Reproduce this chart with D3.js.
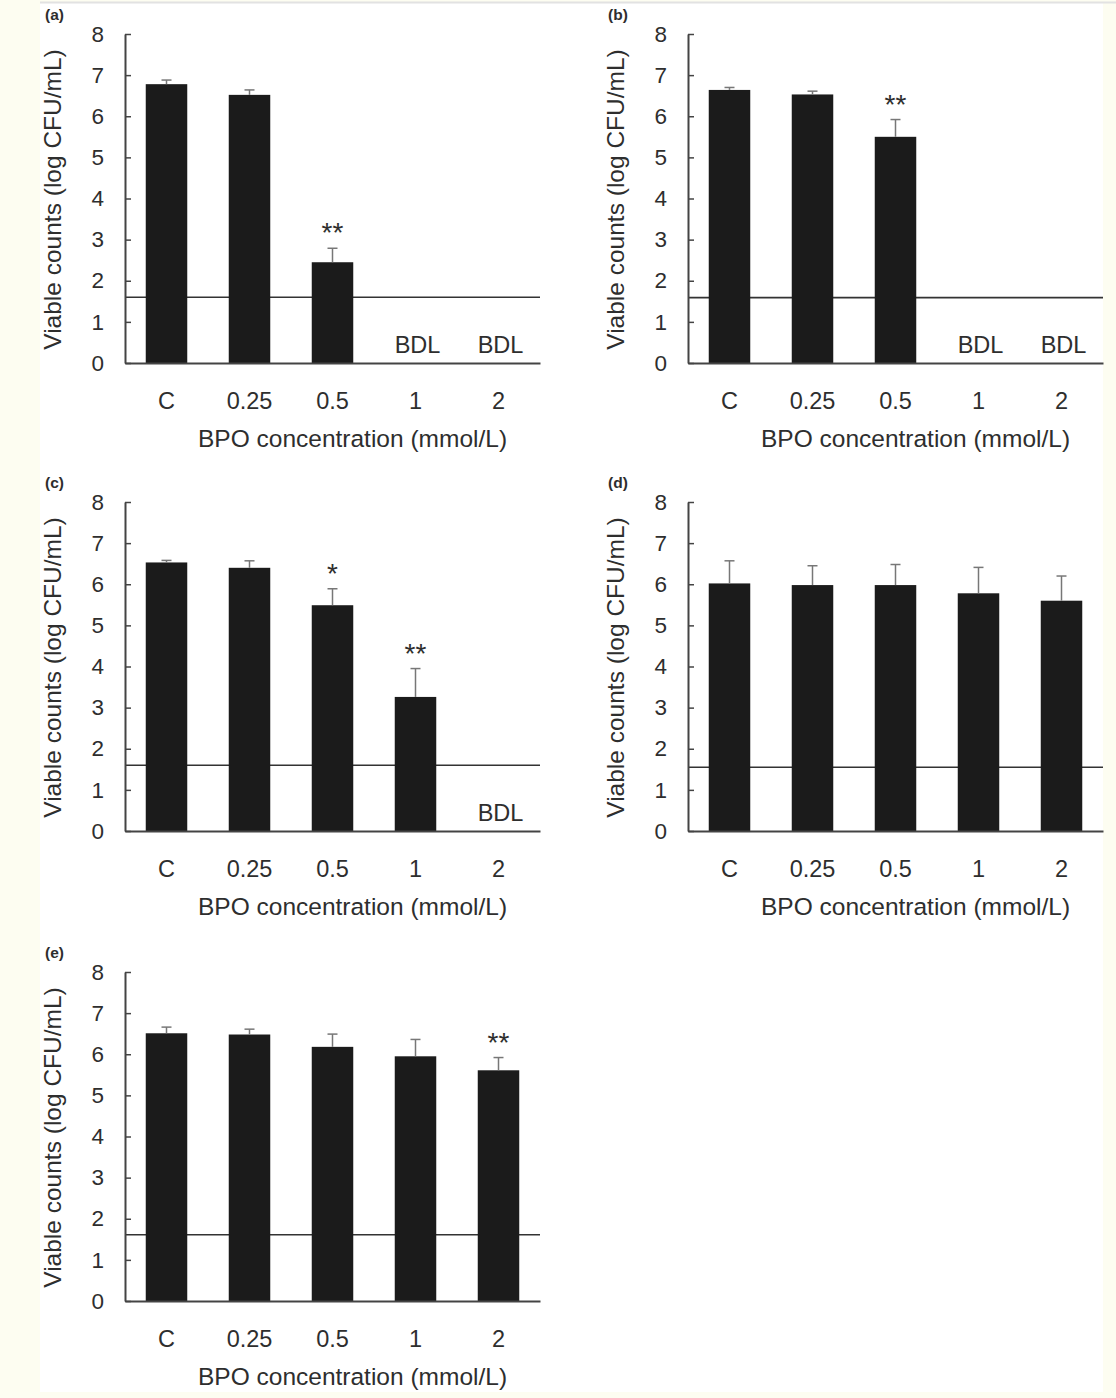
<!DOCTYPE html>
<html>
<head>
<meta charset="utf-8">
<script src="https://cdn.jsdelivr.net/npm/d3@7"></script>
<style>
  html, body { margin: 0; padding: 0; background: #fdfdf1; }
  svg { display: block; }
  text { font-family: "Liberation Sans", Arial, sans-serif; fill: #2e2e2e; }
</style>
</head>
<body>
<div id="viz"></div>
<script>
const categories = ['C', '0.25', '0.5', '1', '2'];
const panelLabels = ['(a)', '(b)', '(c)', '(d)', '(e)'];
const yTicks = [0, 1, 2, 3, 4, 5, 6, 7, 8];

// mean viable counts (log CFU/mL); null = below detection limit (BDL)
const meansA = [6.78, 6.52, 2.45, null, null];
const meansB = [6.64, 6.53, 5.50, null, null];
const meansC = [6.53, 6.40, 5.49, 3.26, null];
const meansD = [6.02, 5.98, 5.98, 5.78, 5.60];
const meansE = [6.51, 6.48, 6.18, 5.95, 5.61];

// upper error bar length
const errA = [0.10, 0.12, 0.34, null, null];
const errB = [0.06, 0.08, 0.42, null, null];
const errC = [0.05, 0.17, 0.40, 0.69, null];
const errD = [0.55, 0.47, 0.50, 0.63, 0.60];
const errE = [0.15, 0.13, 0.31, 0.41, 0.31];

// significance marks
const starsA = ['', '', '**', '', ''];
const starsB = ['', '', '**', '', ''];
const starsC = ['', '', '*', '**', ''];
const starsD = ['', '', '', '', ''];
const starsE = ['', '', '', '', '**'];

// detection limit line
const detectionLimits = [1.6, 1.59, 1.6, 1.55, 1.61];

const panels = [
  { label: panelLabels[0], means: meansA, errs: errA, stars: starsA, limit: detectionLimits[0] },
  { label: panelLabels[1], means: meansB, errs: errB, stars: starsB, limit: detectionLimits[1] },
  { label: panelLabels[2], means: meansC, errs: errC, stars: starsC, limit: detectionLimits[2] },
  { label: panelLabels[3], means: meansD, errs: errD, stars: starsD, limit: detectionLimits[3] },
  { label: panelLabels[4], means: meansE, errs: errE, stars: starsE, limit: detectionLimits[4] }
];

const width = 1116, height = 1398;
const plotW = 415, plotH = 329;
const origins = [[125, 34], [688, 34], [125, 502], [688, 502], [125, 972]];

const svg = d3.select('#viz').append('svg')
  .attr('width', width)
  .attr('height', height);

// white page area with thin top rule
svg.append('rect')
  .attr('x', 40).attr('y', 3)
  .attr('width', 1063).attr('height', 1389)
  .attr('fill', '#ffffff');
svg.append('line')
  .attr('x1', 40).attr('x2', 1116)
  .attr('y1', 2.5).attr('y2', 2.5)
  .attr('stroke', '#e2e2e2').attr('stroke-width', 2);

const xScale = d3.scaleBand()
  .domain(categories)
  .range([0, plotW])
  .paddingInner(0.5)
  .paddingOuter(0.25);

const yScale = d3.scaleLinear()
  .domain([0, 8])
  .range([plotH, 0]);

panels.forEach((p, idx) => {
  const [ox, oy] = origins[idx];
  const g = svg.append('g').attr('transform', `translate(${ox}, ${oy})`);
  const rows = categories.map((c, i) => ({ cat: c, mean: p.means[i], err: p.errs[i], star: p.stars[i] }));

  // panel letter
  g.append('text')
    .attr('x', 45 - 125)
    .attr('y', 20 - 34)
    .style('font-size', '15.5px')
    .style('font-weight', 'bold')
    .text(p.label);

  // detection limit line
  g.append('line')
    .attr('x1', 0).attr('x2', plotW)
    .attr('y1', yScale(p.limit)).attr('y2', yScale(p.limit))
    .attr('stroke', '#333').attr('stroke-width', 1.6);

  const shown = rows.filter(d => d.mean !== null);

  // bars
  g.selectAll('.bar')
    .data(shown)
    .enter().append('rect')
    .attr('class', 'bar')
    .attr('x', d => xScale(d.cat))
    .attr('y', d => yScale(d.mean))
    .attr('width', xScale.bandwidth())
    .attr('height', d => plotH - yScale(d.mean))
    .attr('fill', '#1b1b1b');

  // error bars (upper whisker only)
  const eb = g.selectAll('.err')
    .data(shown)
    .enter().append('g')
    .attr('class', 'err')
    .attr('transform', d => `translate(${xScale(d.cat) + xScale.bandwidth() / 2}, 0)`);
  eb.append('line')
    .attr('x1', 0).attr('x2', 0)
    .attr('y1', d => yScale(d.mean))
    .attr('y2', d => yScale(d.mean + d.err))
    .attr('stroke', '#777').attr('stroke-width', 1.5);
  eb.append('line')
    .attr('x1', -5).attr('x2', 5)
    .attr('y1', d => yScale(d.mean + d.err))
    .attr('y2', d => yScale(d.mean + d.err))
    .attr('stroke', '#777').attr('stroke-width', 1.5);

  // significance stars
  g.selectAll('.star')
    .data(shown.filter(d => d.star))
    .enter().append('text')
    .attr('class', 'star')
    .attr('x', d => xScale(d.cat) + xScale.bandwidth() / 2)
    .attr('y', d => yScale(d.mean + d.err) - 6)
    .attr('text-anchor', 'middle')
    .style('font-size', '28px')
    .text(d => d.star);

  // BDL labels
  g.selectAll('.bdl')
    .data(rows.filter(d => d.mean === null))
    .enter().append('text')
    .attr('class', 'bdl')
    .attr('x', d => xScale(d.cat) + xScale.bandwidth() / 2 + 2)
    .attr('y', plotH - 10)
    .attr('text-anchor', 'middle')
    .style('font-size', '23.5px')
    .text('BDL');

  // axes
  const yAxis = g.append('g')
    .call(d3.axisLeft(yScale).tickValues(yTicks).tickSize(-6).tickSizeOuter(0).tickPadding(21));
  yAxis.selectAll('text').style('font-size', '22.5px').attr('fill', '#2e2e2e');
  yAxis.selectAll('line').attr('stroke', '#444').attr('stroke-width', 1.5);
  yAxis.select('.domain').attr('stroke', '#444').attr('stroke-width', 2);

  const xAxis = g.append('g')
    .attr('transform', `translate(0, ${plotH})`)
    .call(d3.axisBottom(xScale).tickSize(0).tickPadding(29));
  xAxis.selectAll('text').style('font-size', '23.5px').attr('fill', '#2e2e2e');
  xAxis.select('.domain').attr('stroke', '#444').attr('stroke-width', 2);

  // axis titles
  g.append('text')
    .attr('x', plotW / 2 + 20)
    .attr('y', plotH + 84)
    .attr('text-anchor', 'middle')
    .style('font-size', '24.5px')
    .text('BPO concentration (mmol/L)');

  g.append('text')
    .attr('transform', `translate(${61 - 125}, ${plotH / 2 + 1}) rotate(-90)`)
    .attr('text-anchor', 'middle')
    .style('font-size', '24.5px')
    .text('Viable counts (log CFU/mL)');
});
</script>
</body>
</html>
